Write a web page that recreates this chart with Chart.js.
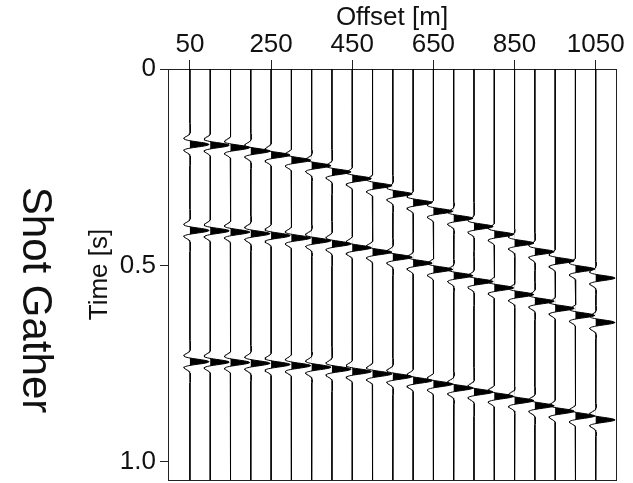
<!DOCTYPE html>
<html>
<head>
<meta charset="utf-8">
<title>Shot Gather</title>
<script src="https://cdn.jsdelivr.net/npm/chart.js@4.4.1/dist/chart.umd.min.js"></script>
<style>
  html, body { margin: 0; padding: 0; background: #fff; }
  canvas { display: block; }
</style>
</head>
<body>
<canvas id="gather" width="633" height="483"></canvas>
<script>
// Receiver offsets (m), one trace per receiver
const offsets = [50, 100, 150, 200, 250, 300, 350, 400, 450, 500, 550,
                 600, 650, 700, 750, 800, 850, 900, 950, 1000, 1050];

// Picked travel times (s) of the three reflections on each trace
const reflection1 = [0.192, 0.194, 0.200, 0.209, 0.219, 0.232, 0.246, 0.262, 0.279, 0.297, 0.318,
                     0.340, 0.362, 0.380, 0.401, 0.421, 0.443, 0.465, 0.488, 0.509, 0.532];
const reflection2 = [0.411, 0.412, 0.415, 0.419, 0.424, 0.430, 0.437, 0.445, 0.455, 0.466, 0.479,
                     0.494, 0.510, 0.526, 0.541, 0.557, 0.574, 0.591, 0.609, 0.627, 0.645];
const reflection3 = [0.745, 0.746, 0.747, 0.749, 0.752, 0.755, 0.759, 0.764, 0.770, 0.776, 0.783,
                     0.793, 0.802, 0.812, 0.822, 0.833, 0.844, 0.857, 0.871, 0.883, 0.893];

// Axis tick values and labels
const offsetTicks = [50, 250, 450, 650, 850, 1050];
const timeTicks = [0, 0.5, 1.0];
const timeTickLabels = ['0', '0.5', '1.0'];

// Display window and wiggle rendering settings
const X_MIN = -4, X_MAX = 1100;
const T_MAX = 1.046;
const DT = 0.001;          // sampling step of the wiggle traces (s)
const GAIN = 42;           // peak wiggle excursion, in offset metres
const FONT = '"Liberation Sans", Arial, Helvetica, sans-serif';
const INK = '#111';

// Source wavelet: zero-phase Ricker with a gentle low-frequency shoulder
function wavelet(tau) {
  const a = Math.PI * 26 * tau;
  const a2 = a * a;
  return (1 - 2 * a2) * Math.exp(-a2) + 0.12 * Math.exp(-Math.pow(tau / 0.03, 2));
}

function traceSamples(i) {
  const picks = [reflection1[i], reflection2[i], reflection3[i]];
  const samples = [];
  const n = Math.round(T_MAX / DT);
  for (let k = 0; k <= n; k++) {
    const t = k * DT;
    let amp = 0;
    for (const p of picks) amp += wavelet(t - p);
    samples.push({ t, amp });
  }
  return samples;
}

// Each trace: a black variable-area fill of the positive lobes plus the wiggle line
const datasets = [];
offsets.forEach((off, i) => {
  const s = traceSamples(i);
  datasets.push({
    label: 'area ' + off,
    data: s.map(p => ({ x: off + GAIN * Math.max(0, p.amp), y: p.t })),
    borderColor: 'rgba(0,0,0,0)',
    borderWidth: 0,
    backgroundColor: '#000',
    fill: { value: off },
    pointRadius: 0
  });
  datasets.push({
    label: 'trace ' + off,
    data: s.map(p => ({ x: off + GAIN * p.amp, y: p.t })),
    borderColor: '#000',
    borderWidth: 1,
    fill: false,
    pointRadius: 0
  });
});

// Vertical caption to the left of the gather
const sideCaption = {
  id: 'sideCaption',
  afterDraw(chart) {
    const { ctx } = chart;
    ctx.save();
    ctx.translate(35, 300);
    ctx.rotate(Math.PI / 2);
    ctx.font = '42px ' + FONT;
    ctx.fillStyle = INK;
    ctx.textAlign = 'center';
    ctx.textBaseline = 'middle';
    ctx.fillText('Shot Gather', 0, 0);
    ctx.restore();
  }
};

// Keep the plot frame where the axes put it, regardless of label overhang
function noOverhang(s) {
  s.paddingTop = 0; s.paddingBottom = 0; s.paddingLeft = 0; s.paddingRight = 0;
}

new Chart(document.getElementById('gather'), {
  type: 'line',
  data: { datasets },
  plugins: [sideCaption],
  options: {
    responsive: false,
    animation: false,
    indexAxis: 'y',
    elements: { line: { tension: 0 } },
    layout: { padding: { top: 0, left: 0, right: 17, bottom: 3 } },
    plugins: {
      legend: { display: false },
      tooltip: { enabled: false },
      title: { display: false }
    },
    scales: {
      x: {
        type: 'linear',
        position: 'top',
        min: X_MIN,
        max: X_MAX,
        afterBuildTicks: s => { s.ticks = offsetTicks.map(v => ({ value: v })); },
        afterFit: s => { s.height = 69; noOverhang(s); },
        ticks: {
          autoSkip: false, maxRotation: 0, padding: 0, color: INK,
          font: { family: FONT, size: 26 },
          callback: v => String(v)
        },
        grid: { drawOnChartArea: false, drawTicks: true, tickLength: 9, color: '#222', lineWidth: 1 },
        border: { display: true, color: '#222', width: 1 },
        title: {
          display: true, text: 'Offset [m]', color: INK,
          font: { family: FONT, size: 26 }, padding: { top: 2, bottom: 0 }
        }
      },
      y: {
        type: 'linear',
        position: 'left',
        reverse: true,
        min: 0,
        max: T_MAX,
        afterBuildTicks: s => { s.ticks = timeTicks.map(v => ({ value: v })); },
        afterFit: s => { s.width = 168; noOverhang(s); },
        ticks: {
          autoSkip: false, padding: 4, color: INK,
          font: { family: FONT, size: 26 },
          callback: v => timeTickLabels[timeTicks.indexOf(v)]
        },
        grid: { drawOnChartArea: false, drawTicks: true, tickLength: 8, color: '#222', lineWidth: 1 },
        border: { display: true, color: '#222', width: 1 },
        title: {
          display: true, text: 'Time [s]', color: INK,
          font: { family: FONT, size: 26 }, padding: { top: 84, bottom: 0 }
        }
      },
      xFrame: {
        type: 'linear', position: 'bottom', display: true,
        afterFit: s => { s.height = 0; noOverhang(s); },
        ticks: { display: false },
        grid: { display: false, drawTicks: false },
        border: { display: true, color: '#222', width: 1 }
      },
      yFrame: {
        type: 'linear', position: 'right', display: true,
        afterFit: s => { s.width = 0; noOverhang(s); },
        ticks: { display: false },
        grid: { display: false, drawTicks: false },
        border: { display: true, color: '#222', width: 1 }
      }
    }
  }
});
</script>
</body>
</html>
